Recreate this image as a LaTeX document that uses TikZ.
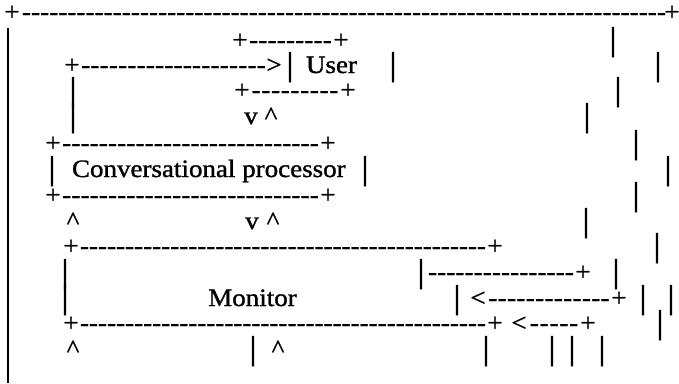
\documentclass[tikz,border=0pt]{standalone}
\usepackage{fontspec}
\setmainfont{Liberation Serif}[FakeStretch=1.08,FakeBold=1.2]
\newcommand\Dashes[1]{\hbox to #1pt{\xleaders\hbox{-}\hfill}}

\begin{document}
\begin{tikzpicture}[x=1pt,y=-1pt,
  every node/.style={font=\fontsize{25}{26}\selectfont, inner sep=0pt, outer sep=0pt, anchor=base},
  word/.style={anchor=base west},
  bar/.style={font=\fontsize{33}{33}\selectfont, yshift=-2pt}]
\useasboundingbox (0,0) rectangle (679,383);

% Row 1

\node (R1_p1) at (12,20) {+};
\node (R1_d) at (344,20) {\Dashes{644}};
\node (R1_p2) at (672,20) {+};

% Left border

\coordinate (Lb_top) at (8,28);
\coordinate (Lb_bot) at (8,383);
\draw[line width=1.5pt] (Lb_top) -- (Lb_bot);

% Row 2

\node (R2_p1) at (240,48) {+};
\node (R2_d) at (290.5,48) {\Dashes{83}};
\node (R2_p2) at (341,48) {+};
\node[bar] (R2_b) at (613,48) {|};

% Row 3

\node (R3_p) at (72,73) {+};
\node (R3_d) at (173.5,73) {\Dashes{185}};
\node (R3_gt) at (274,73) {>};
\node[bar] (R3_b1) at (290,73) {|};
\node[word] (R3_user) at (306,73) {User};
\node[bar] (R3_b2) at (393,73) {|};
\node[bar] (R3_b3) at (658,73) {|};

% Row 4

\node[bar] (R4_b1) at (73,98) {|};
\node (R4_p1) at (242,98) {+};
\node (R4_d) at (295,98) {\Dashes{88}};
\node (R4_p2) at (348,98) {+};
\node[bar] (R4_b2) at (618,98) {|};

% Row 5

\node[bar] (R5_b1) at (73,124) {|};
\node (R5_v) at (251,124) {v};
\node (R5_c) at (271,124) {\textasciicircum};
\node[bar] (R5_b2) at (587,124) {|};

% Row 6

\node (R6_p1) at (53,151) {+};
\node (R6_d) at (190.5,151) {\Dashes{257}};
\node (R6_p2) at (328,151) {+};
\node[bar] (R6_b) at (636,151) {|};

% Row 7

\node[bar] (R7_b1) at (52,177) {|};
\node[word] (R7_cp) at (72,177) {Conversational processor};
\node[bar] (R7_b2) at (365,177) {|};
\node[bar] (R7_b3) at (668,177) {|};

% Row 8

\node (R8_p1) at (53,203) {+};
\node (R8_d) at (190.5,203) {\Dashes{257}};
\node (R8_p2) at (328,203) {+};
\node[bar] (R8_b) at (636,203) {|};

% Row 9

\node (R9_c1) at (73,229) {\textasciicircum};
\node (R9_v) at (252,229) {v};
\node (R9_c2) at (273,229) {\textasciicircum};
\node[bar] (R9_b) at (586,229) {|};

% Row 10

\node (R10_p1) at (71,254) {+};
\node (R10_d) at (283,254) {\Dashes{406}};
\node (R10_p2) at (495,254) {+};
\node[bar] (R10_b) at (657,254) {|};

% Row 11

\node[bar] (R11_b1) at (65,280) {|};
\node[bar] (R11_b2) at (421,280) {|};
\node (R11_d) at (501,280) {\Dashes{146}};
\node (R11_p) at (583,280) {+};
\node[bar] (R11_b3) at (616,280) {|};

% Row 12

\node[bar] (R12_b1) at (65,306) {|};
\node (R12_mon) at (252.5,306) {Monitor};
\node[bar] (R12_b2) at (457,306) {|};
\node (R12_lt) at (478,306) {<};
\node (R12_d) at (549,306) {\Dashes{122}};
\node (R12_p) at (619,306) {+};
\node[bar] (R12_b3) at (643,306) {|};
\node[bar] (R12_b4) at (671,306) {|};

% Row 13

\node (R13_p1) at (71,331) {+};
\node (R13_d1) at (283,331) {\Dashes{406}};
\node (R13_p2) at (495,331) {+};
\node (R13_lt) at (519,331) {<};
\node (R13_d2) at (554,331) {\Dashes{50}};
\node (R13_p3) at (588,331) {+};
\node[bar] (R13_b) at (660,331) {|};

% Row 14

\node (R14_c1) at (73,357) {\textasciicircum};
\node[bar] (R14_b1) at (253,357) {|};
\node (R14_c2) at (278,357) {\textasciicircum};
\node[bar] (R14_b2) at (486,357) {|};
\node[bar] (R14_b3) at (552,357) {|};
\node[bar] (R14_b4) at (572,357) {|};
\node[bar] (R14_b5) at (602,357) {|};

\end{tikzpicture}
\end{document}
